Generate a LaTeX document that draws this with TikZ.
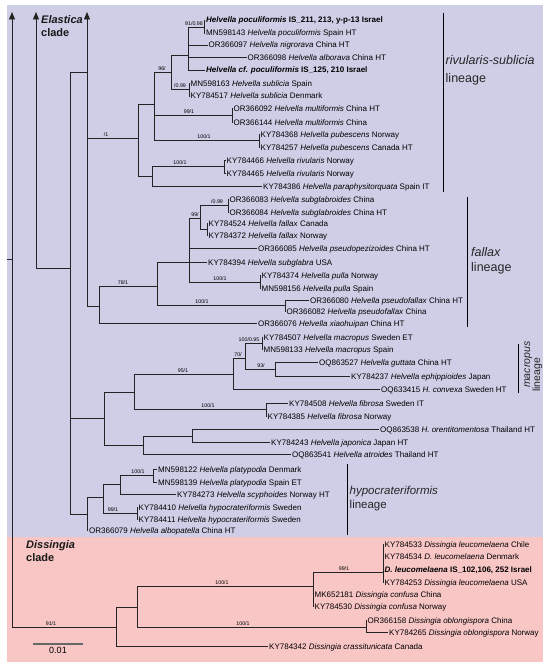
\documentclass[tikz,border=0pt]{standalone}
\usepackage{fontspec}
\setmainfont{Liberation Sans}
\usetikzlibrary{arrows.meta}
\definecolor{lav}{RGB}{206,206,231}
\definecolor{pinkbg}{RGB}{249,198,198}
\definecolor{ln}{RGB}{35,35,35}
\begin{document}
\begin{tikzpicture}[x=1pt,y=-1pt,
  br/.style={draw=ln, line width=0.9pt},
  arr/.style={br, -{Triangle[length=7.5pt,width=6pt]}},
  tip/.style={anchor=west, inner xsep=1pt, inner ysep=0pt, text height=6pt, text depth=0pt, font=\fontsize{8}{9}\selectfont, text=black},
  sup/.style={anchor=south, inner sep=0pt, font=\fontsize{5.3}{6}\selectfont},
  lbar/.style={draw=black, line width=0.9pt},
  lin/.style={anchor=base west, inner sep=0pt, text=black!85},
  cladelab/.style={anchor=base west, inner sep=0pt, font=\fontsize{11}{13}\selectfont\bfseries, text=black!90}
]
\fill[white] (0,0) rectangle (550,669);
\fill[lav] (7,5) rectangle (543,537);
\fill[pinkbg] (7,537) rectangle (543,662);
\useasboundingbox (0,0) rectangle (550,669);

% tips
\node[tip] (t1) at (205,20) {\textbf{\textit{Helvella poculiformis} IS\_211, 213, y-p-13 Israel}};
\node[tip] (t2) at (205,33) {MN598143 \textit{Helvella poculiformis} Spain HT};
\node[tip] (t3) at (207.5,45) {OR366097 \textit{Helvella nigrorava} China HT};
\node[tip] (t4) at (246.5,57) {OR366098 \textit{Helvella alborava} China HT};
\node[tip] (t5) at (205,70) {\textbf{\textit{Helvella cf. poculiformis} IS\_125, 210 Israel}};
\node[tip] (t6) at (189.5,83) {MN598163 \textit{Helvella sublicia} Spain};
\node[tip] (t7) at (189.5,96) {KY784517 \textit{Helvella sublicia} Denmark};
\node[tip] (t8) at (232.5,108) {OR366092 \textit{Helvella multiformis} China HT};
\node[tip] (t9) at (232.5,122) {OR366144 \textit{Helvella multiformis} China};
\node[tip] (t10) at (259.5,134) {KY784368 \textit{Helvella pubescens} Norway};
\node[tip] (t11) at (259.5,147) {KY784257 \textit{Helvella pubescens} Canada HT};
\node[tip] (t12) at (225.5,160) {KY784466 \textit{Helvella rivularis} Norway};
\node[tip] (t13) at (225.5,173) {KY784465 \textit{Helvella rivularis} Norway};
\node[tip] (t14) at (262,186) {KY784386 \textit{Helvella paraphysitorquata} Spain IT};
\node[tip] (t15) at (228.5,199) {OR366083 \textit{Helvella subglabroides} China};
\node[tip] (t16) at (228.5,212) {OR366084 \textit{Helvella subglabroides} China HT};
\node[tip] (t17) at (207.5,223) {KY784524 \textit{Helvella fallax} Canada};
\node[tip] (t18) at (207.5,235) {KY784372 \textit{Helvella fallax} Norway};
\node[tip] (t19) at (257,248) {OR366085 \textit{Helvella pseudopezizoides} China HT};
\node[tip] (t20) at (207,262) {KY784394 \textit{Helvella subglabra} USA};
\node[tip] (t21) at (260.5,275) {KY784374 \textit{Helvella pulla} Norway};
\node[tip] (t22) at (260.5,288) {MN598156 \textit{Helvella pulla} Spain};
\node[tip] (t23) at (309,300) {OR366080 \textit{Helvella pseudofallax} China HT};
\node[tip] (t24) at (285.5,311) {OR366082 \textit{Helvella pseudofallax} China};
\node[tip] (t25) at (257,323) {OR366076 \textit{Helvella xiaohuipan} China HT};
\node[tip] (t26) at (262.5,337) {KY784507 \textit{Helvella macropus} Sweden ET};
\node[tip] (t27) at (262.5,349) {MN598133 \textit{Helvella macropus} Spain};
\node[tip] (t28) at (318,362) {OQ863527 \textit{Helvella guttata} China HT};
\node[tip] (t29) at (350,376) {KY784237 \textit{Helvella ephippioides} Japan};
\node[tip] (t30) at (380,389) {OQ633415 \textit{H. convexa} Sweden HT};
\node[tip] (t31) at (288,403) {KY784508 \textit{Helvella fibrosa} Sweden IT};
\node[tip] (t32) at (266.5,416) {KY784385 \textit{Helvella fibrosa} Norway};
\node[tip] (t33) at (379,429) {OQ863538 \textit{H. orentitomentosa} Thailand HT};
\node[tip] (t34) at (270,442) {KY784243 \textit{Helvella japonica} Japan HT};
\node[tip] (t35) at (291,454) {OQ863541 \textit{Helvella atroides} Thailand HT};
\node[tip] (t36) at (157,469) {MN598122 \textit{Helvella platypodia} Denmark};
\node[tip] (t37) at (157,482) {MN598139 \textit{Helvella platypodia} Spain ET};
\node[tip] (t38) at (176,494) {KY784273 \textit{Helvella scyphoides} Norway HT};
\node[tip] (t39) at (137.5,507) {KY784410 \textit{Helvella hypocrateriformis} Sweden};
\node[tip] (t40) at (137.5,519) {KY784411 \textit{Helvella hypocrateriformis} Sweden};
\node[tip] (t41) at (88,530) {OR366079 \textit{Helvella albopatella} China HT};
\node[tip] (t42) at (383.5,544) {KY784533 \textit{Dissingia leucomelaena} Chile};
\node[tip] (t43) at (383.5,556) {KY784534 \textit{D. leucomelaena} Denmark};
\node[tip] (t44) at (383.5,569) {\textbf{\textit{D. leucomelaena} IS\_102,106, 252 Israel}};
\node[tip] (t45) at (383.5,582) {KY784253 \textit{Dissingia leucomelaena} USA};
\node[tip] (t46) at (313.5,594) {MK652181 \textit{Dissingia confusa} China};
\node[tip] (t47) at (313.5,606) {KY784530 \textit{Dissingia confusa} Norway};
\node[tip] (t48) at (366.5,620) {OR366158 \textit{Dissingia oblongispora} China};
\node[tip] (t49) at (388,632) {KY784265 \textit{Dissingia oblongispora} Norway};
\node[tip] (t50) at (268,646) {KY784342 \textit{Dissingia crassitunicata} Canada};

% internal nodes
\coordinate (r0) at (12,627);
\coordinate (rtop) at (12,12);
\coordinate (rstub) at (7,259);
\coordinate (rstubE) at (12,259);
\coordinate (e36) at (36,268);
\coordinate (e36top) at (36,12);
\coordinate (n70) at (70,268);
\coordinate (c87) at (87,72);
\coordinate (c87top) at (87,12);
\coordinate (A) at (138,138);
\coordinate (B) at (154,104);
\coordinate (C) at (152,176);
\coordinate (D1) at (171,72);
\coordinate (D2) at (188,55);
\coordinate (P1) at (204,27);
\coordinate (SUB) at (189,89);
\coordinate (MUL) at (232,115);
\coordinate (PUB) at (259,140);
\coordinate (RIV) at (224,166);
\coordinate (F0) at (99,306);
\coordinate (F1) at (157,286);
\coordinate (F2) at (189,262);
\coordinate (F3) at (200,218);
\coordinate (SGL) at (228,205);
\coordinate (FAL) at (207,229);
\coordinate (PUL) at (260,282);
\coordinate (PSF) at (285,305);
\coordinate (M0) at (104,418);
\coordinate (M1) at (134,392);
\coordinate (M2) at (233,374);
\coordinate (M3) at (245,358);
\coordinate (MAC) at (262,343);
\coordinate (M4) at (275,369);
\coordinate (FIB) at (266,409);
\coordinate (M5) at (143,445);
\coordinate (M6) at (192,436);
\coordinate (H0) at (87,514);
\coordinate (H1) at (103,497);
\coordinate (H2) at (120,484);
\coordinate (PLA) at (153,475);
\coordinate (HYP) at (137,513);
\coordinate (DS0) at (116,627);
\coordinate (DS1) at (137,607);
\coordinate (DS2) at (313,586);
\coordinate (LEU) at (383,572);
\coordinate (OBL) at (366,627);

% arrows and root
\draw[arr] (r0) -- (rtop);
\draw[br] (rstub) -- (rstubE);
\draw[arr] (e36) -- (e36top);
\draw[br] (e36) -- (n70);
\draw[arr] (c87) -- (c87top);

\foreach \p/\c in {n70/c87, n70/M0, n70/H0, c87/A, c87/F0, A/B, A/C, B/D1, B/MUL, B/PUB, D1/D2, D1/SUB, D2/P1, C/RIV,
  F0/F1, F1/F2, F1/PSF, F2/F3, F2/PUL, F3/SGL, F3/FAL,
  M0/M1, M0/M5, M1/M2, M1/FIB, M2/M3, M3/MAC, M3/M4, M5/M6,
  H0/H1, H1/H2, H1/HYP, H2/PLA, r0/DS0, DS0/DS1, DS1/DS2, DS1/OBL, DS2/LEU}
  \draw[br] (\p) |- (\c);

\foreach \p/\c in {D2/t3, D2/t4, D2/t5, P1/t1, P1/t2, SUB/t6, SUB/t7, MUL/t8, MUL/t9, PUB/t10, PUB/t11,
  C/t14, RIV/t12, RIV/t13, F0/t25, F2/t19, F2/t20, SGL/t15, SGL/t16, FAL/t17, FAL/t18, PUL/t21, PUL/t22,
  PSF/t23, PSF/t24, M2/t30, MAC/t26, MAC/t27, M4/t28, M4/t29, FIB/t31, FIB/t32, M5/t35, M6/t33, M6/t34,
  H0/t41, H2/t38, PLA/t36, PLA/t37, HYP/t39, HYP/t40, DS0/t50, DS2/t46, DS2/t47,
  LEU/t42, LEU/t43, LEU/t44, LEU/t45, OBL/t48, OBL/t49}
  \draw[br] (\p) |- (\c.west);

% support values
\node[sup] (s1) at (194,26) {91/0.98};
\node[sup] (s2) at (162,71) {96/};
\node[sup] (s3) at (180,88) {/0.99};
\node[sup] (s4) at (189,114) {99/1};
\node[sup] (s5) at (204,139) {100/1};
\node[sup] (s6) at (106,137) {/1};
\node[sup] (s7) at (180,165) {100/1};
\node[sup] (s8) at (217,204) {/0.99};
\node[sup] (s9) at (195,217) {99/};
\node[sup] (s10) at (220,281) {100/1};
\node[sup] (s11) at (123,285) {78/1};
\node[sup] (s12) at (202,304) {100/1};
\node[sup] (s13) at (249,342) {100/0.95};
\node[sup] (s14) at (238,357) {70/};
\node[sup] (s15) at (261,368) {93/};
\node[sup] (s16) at (183,373) {95/1};
\node[sup] (s17) at (208,408) {100/1};
\node[sup] (s18) at (138,474) {100/1};
\node[sup] (s19) at (113,512) {99/1};
\node[sup] (s20) at (51,626) {91/1};
\node[sup] (s21) at (222,585) {100/1};
\node[sup] (s22) at (243,626) {100/1};
\node[sup] (s23) at (344,571) {99/1};

% lineage bars
\coordinate (rsA) at (443,13); \coordinate (rsB) at (443,192);
\coordinate (faA) at (467,197); \coordinate (faB) at (467,327);
\coordinate (maA) at (518,344); \coordinate (maB) at (518,393);
\coordinate (hyA) at (347,464); \coordinate (hyB) at (347,535);
\draw[lbar] (rsA) -- (rsB);
\draw[lbar] (faA) -- (faB);
\draw[lbar] (maA) -- (maB);
\draw[lbar] (hyA) -- (hyB);
\node[lin, font=\fontsize{12.5}{14}\selectfont] (rsl1) at (445.5,65) {\textit{rivularis-sublicia}};
\node[lin, font=\fontsize{12.5}{14}\selectfont] (rsl2) at (445.5,82) {lineage};
\node[lin, font=\fontsize{12.5}{14}\selectfont] (fal1) at (471,256) {\textit{fallax}};
\node[lin, font=\fontsize{12.5}{14}\selectfont] (fal2) at (471,271) {lineage};
\node[lin, font=\fontsize{10.5}{12}\selectfont, rotate=90] (mal1) at (530,388) {\textit{macropus}};
\node[lin, font=\fontsize{10.5}{12}\selectfont, rotate=90] (mal2) at (540,392) {lineage};
\node[lin, font=\fontsize{11.5}{13}\selectfont] (hyl1) at (349.5,494) {\textit{hypocrateriformis}};
\node[lin, font=\fontsize{11.5}{13}\selectfont] (hyl2) at (349.5,508) {lineage};

% clade labels
\node[cladelab] (el1) at (41,24) {\textit{Elastica}};
\node[cladelab] (el2) at (41,37) {clade};
\node[cladelab] (ds1) at (26,548) {\textit{Dissingia}};
\node[cladelab] (ds2) at (26,561) {clade};

% scale bar
\coordinate (sb1) at (33,644);
\coordinate (sb2) at (83,644);
\draw[draw=black!60, line width=1.3pt] (sb1) -- (sb2);
\node[anchor=base, inner sep=0pt, font=\fontsize{9}{10}\selectfont] (sbl) at (58,653) {0.01};
\end{tikzpicture}
\end{document}
